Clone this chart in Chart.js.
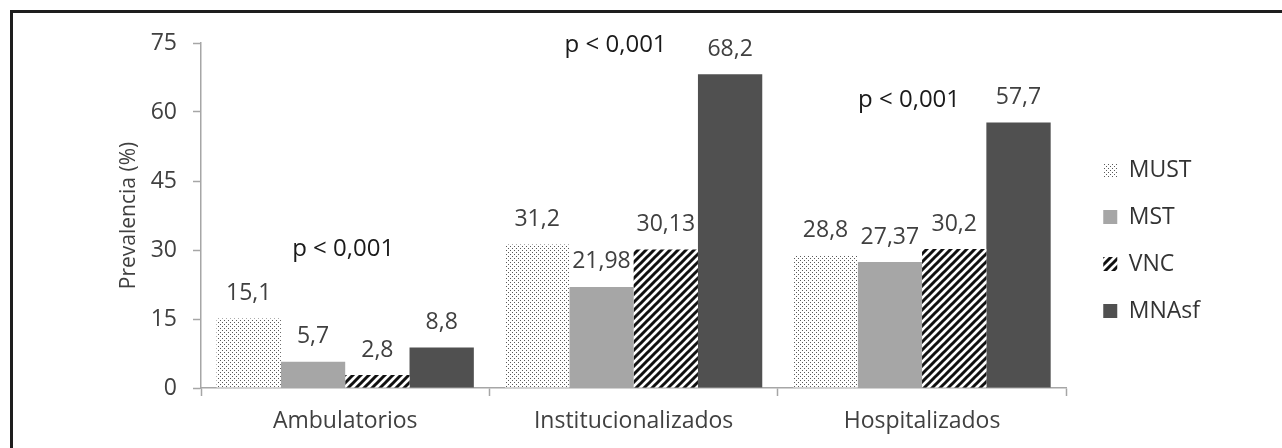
<!DOCTYPE html>
<html>
<head>
<meta charset="utf-8">
<script src="https://cdn.jsdelivr.net/npm/chart.js@4/dist/chart.umd.min.js"></script>
<style>
  body { margin: 0; background: #fff; overflow: hidden; }
  #frame { position: absolute; left: 10px; top: 10px; width: 1300px; height: 470px; border: 3px solid #1e1e1e; }
  #wrap { position: absolute; left: 0; top: 0; width: 1282px; height: 448px; }
</style>
</head>
<body>
<div id="frame"></div>
<div id="wrap"><canvas id="chart" width="1282" height="448"></canvas></div>
<script>
const categories = ['Ambulatorios', 'Institucionalizados', 'Hospitalizados'];
const seriesNames = ['MUST', 'MST', 'VNC', 'MNAsf'];
const mustValues = [15.1, 31.2, 28.8];
const mstValues = [5.7, 21.98, 27.37];
const vncValues = [2.8, 30.13, 30.2];
const mnaValues = [8.8, 68.2, 57.7];
const yTicks = [0, 15, 30, 45, 60, 75];

// p-value notes: text, x position (category index), y position (axis value)
const pTexts = ['p < 0,001', 'p < 0,001', 'p < 0,001'];
const pIndex = [-0.007, 0.9375, 1.955];
const pLevel = [30.2, 74.6, 62.6];

Chart.defaults.font.family = "'Open Sans', sans-serif";
Chart.defaults.color = '#404040';

function dotPattern() {
    const c = document.createElement('canvas');
    c.width = 4; c.height = 4;
    const g = c.getContext('2d');
    g.fillStyle = '#ffffff';
    g.fillRect(0, 0, 4, 4);
    g.fillStyle = '#5a5a5a';
    g.fillRect(0, 0, 1, 1);
    g.fillRect(2, 2, 1, 1);
    return g.createPattern(c, 'repeat');
}

function stripePattern() {
    const c = document.createElement('canvas');
    c.width = 8; c.height = 8;
    const g = c.getContext('2d');
    g.fillStyle = '#ffffff';
    g.fillRect(0, 0, 8, 8);
    g.strokeStyle = '#111111';
    g.lineWidth = 3;
    g.beginPath();
    g.moveTo(-2, 10); g.lineTo(10, -2);
    g.moveTo(-6, 6); g.lineTo(6, -6);
    g.moveTo(2, 14); g.lineTo(14, 2);
    g.stroke();
    return g.createPattern(c, 'repeat');
}

const valueLabels = {
    id: 'valueLabels',
    afterDatasetsDraw(chart) {
        const ctx = chart.ctx;
        ctx.save();
        ctx.font = "23px 'Open Sans', sans-serif";
        ctx.fillStyle = '#404040';
        ctx.textAlign = 'center';
        ctx.textBaseline = 'middle';
        chart.data.datasets.forEach((ds, i) => {
            chart.getDatasetMeta(i).data.forEach((bar, j) => {
                ctx.fillText(String(ds.data[j]).replace('.', ','), bar.x, bar.y - 25);
            });
        });
        const xs = chart.scales.x, ys = chart.scales.y;
        ctx.font = "24px 'Open Sans', sans-serif";
        ctx.fillStyle = '#1a1a1a';
        pTexts.forEach((t, k) => {
            ctx.fillText(t, xs.getPixelForValue(pIndex[k]), ys.getPixelForValue(pLevel[k]));
        });
        ctx.restore();
    }
};

const ctx = document.getElementById('chart').getContext('2d');

const chart = new Chart(ctx, {
    type: 'bar',
    data: {
        labels: categories,
        datasets: [
            { label: seriesNames[0], data: mustValues, backgroundColor: dotPattern() },
            { label: seriesNames[1], data: mstValues, backgroundColor: '#a6a6a6' },
            { label: seriesNames[2], data: vncValues, backgroundColor: stripePattern() },
            { label: seriesNames[3], data: mnaValues, backgroundColor: '#505050' }
        ]
    },
    options: {
        responsive: false,
        animation: false,
        layout: { padding: { left: 112, top: 43, right: 72, bottom: 10 } },
        datasets: { bar: { categoryPercentage: 0.892, barPercentage: 1.0 } },
        plugins: {
            tooltip: { enabled: false },
            legend: {
                position: 'right',
                labels: {
                    boxWidth: 14,
                    boxHeight: 14,
                    padding: 24,
                    color: '#333333',
                    font: { size: 23 }
                }
            }
        },
        scales: {
            x: {
                grid: { drawOnChartArea: false, tickLength: 8, tickColor: '#a6a6a6', tickWidth: 1.5 },
                border: { color: '#a6a6a6', width: 1.5 },
                ticks: { padding: 12, font: { size: 23 }, color: '#404040' },
                afterFit(s) { s.height = 50; }
            },
            y: {
                min: 0,
                max: 75,
                afterBuildTicks(s) { s.ticks = yTicks.map(v => ({ value: v })); },
                grid: { drawOnChartArea: false, tickLength: 8, tickColor: '#a6a6a6', tickWidth: 1.5 },
                border: { color: '#a6a6a6', width: 1.5 },
                ticks: { padding: 16, font: { size: 23 }, color: '#404040' },
                title: { display: true, text: 'Prevalencia (%)', font: { size: 21 }, color: '#404040', padding: { top: 4, bottom: 4 } },
                afterFit(s) { s.width = 89; }
            },
            // empty right-hand axis, only keeps the gap between bars and legend
            gap: {
                type: 'linear',
                position: 'right',
                grid: { display: false },
                border: { display: false },
                ticks: { display: false },
                afterFit(s) { s.width = 13; }
            }
        }
    },
    plugins: [valueLabels]
});
</script>
</body>
</html>
